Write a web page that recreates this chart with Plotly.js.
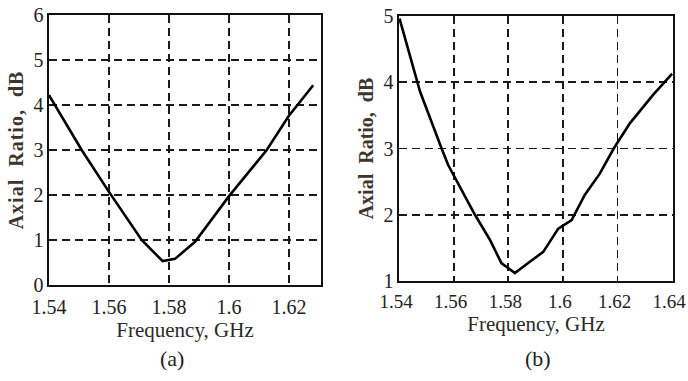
<!DOCTYPE html>
<html>
<head>
<meta charset="utf-8">
<script src="https://cdn.plot.ly/plotly-3.0.1.min.js"></script>
<style>
html,body{margin:0;padding:0;background:#fff;}
#chart{width:688px;height:381px;}
.ytitle{letter-spacing:1px;}
</style>
</head>
<body>
<div id="chart"></div>
<script>
// (a) axial ratio vs frequency
const freqA = [1.540, 1.5509, 1.560, 1.5709, 1.5779, 1.5820, 1.5887, 1.6001, 1.6126, 1.6200, 1.6281];
const arA   = [4.22,  3.00,   2.07,  1.00,   0.53,   0.58,   0.96,   1.98,   3.00,   3.76,   4.44];
// (b) axial ratio vs frequency
const freqB = [1.5402, 1.5477, 1.5556, 1.5580, 1.5678, 1.5733, 1.5775, 1.5824, 1.5879, 1.5928, 1.5983, 1.6032, 1.6080, 1.6135, 1.6186, 1.6245, 1.6330, 1.6400];
const arB   = [4.96,   3.86,   3.00,   2.75,   2.00,   1.62,   1.27,   1.12,   1.29,   1.44,   1.79,   1.92,   2.30,   2.62,   3.00,   3.38,   3.81,   4.13];

const xTicksA = [1.54, 1.56, 1.58, 1.6, 1.62];
const xTicksB = [1.54, 1.56, 1.58, 1.6, 1.62, 1.64];
const yTicksA = [0, 1, 2, 3, 4, 5, 6];
const yTicksB = [1, 2, 3, 4, 5];
const xTitle = 'Frequency, GHz';
const yTitle = 'Axial\u00a0 Ratio,\u00a0 dB';
const panelLabels = ['(a)', '(b)'];

const serif = '"Liberation Serif", "Times New Roman", serif';
const tickFont = {family: serif, size: 20, color: '#222'};
const tickFontB = {family: serif, size: 19, color: '#222'};
const titleFont = {family: serif, size: 21, color: '#2a2a2a'};
const yTitleFont = {family: serif, size: 20, color: '#3d3630', weight: 'bold'};

function xax(domain, range, ticks, anchor, tf, shift) {
  return {
    domain: domain, range: range, anchor: anchor,
    tickmode: 'array', tickvals: ticks, ticktext: ticks.map(String),
    showgrid: true, gridcolor: '#1a1a1a', gridwidth: 1.8, griddash: '8px,5px',
    showline: true, linecolor: '#111', linewidth: 1.6, mirror: true,
    zeroline: false, ticks: '', tickfont: tf, ticklabelstandoff: 3,
    ticklabelshift: shift, ticklabeloverflow: 'allow',
    title: {text: xTitle, font: titleFont, standoff: 0}
  };
}
function yax(domain, range, ticks, anchor) {
  return {
    domain: domain, range: range, anchor: anchor,
    tickmode: 'array', tickvals: ticks, ticktext: ticks.map(String),
    showgrid: true, gridcolor: '#1a1a1a', gridwidth: 1.8, griddash: '8px,5px',
    showline: true, linecolor: '#111', linewidth: 1.6, mirror: true,
    zeroline: false, ticks: '', tickfont: tickFont, ticklabeloverflow: 'allow',
    title: {text: yTitle, font: yTitleFont, standoff: 4}
  };
}

const data = [
  {x: freqA, y: arA, type: 'scatter', mode: 'lines', xaxis: 'x', yaxis: 'y',
   line: {color: '#000', width: 2.6}, showlegend: false, hoverinfo: 'skip'},
  {x: freqB, y: arB, type: 'scatter', mode: 'lines', xaxis: 'x2', yaxis: 'y2',
   line: {color: '#000', width: 2.6}, showlegend: false, hoverinfo: 'skip'}
];

const layout = {
  width: 688, height: 381,
  margin: {l: 0, r: 0, t: 0, b: 0},
  paper_bgcolor: '#fff', plot_bgcolor: '#fff',
  showlegend: false,
  xaxis: xax([49/688, 321/688], [1.54, 1.6307], xTicksA, 'y', tickFont, 0),
  yaxis: yax([(381-285)/381, (381-15)/381], [0, 6], yTicksA, 'x'),
  xaxis2: xax([399/688, 673/688], [1.54, 1.6403], xTicksB, 'y2', tickFontB, -3),
  yaxis2: yax([(381-281)/381, (381-16)/381], [1, 5], yTicksB, 'x2'),
  annotations: [
    {text: panelLabels[0], xref: 'paper', yref: 'paper', x: 172/688, y: (381-358)/381,
     xanchor: 'center', yanchor: 'middle',
     showarrow: false, font: {family: serif, size: 22, color: '#222'}},
    {text: panelLabels[1], xref: 'paper', yref: 'paper', x: 538/688, y: (381-358)/381,
     xanchor: 'center', yanchor: 'middle',
     showarrow: false, font: {family: serif, size: 22, color: '#222'}}
  ]
};

Plotly.newPlot('chart', data, layout, {staticPlot: true, displayModeBar: false});
</script>
</body>
</html>
